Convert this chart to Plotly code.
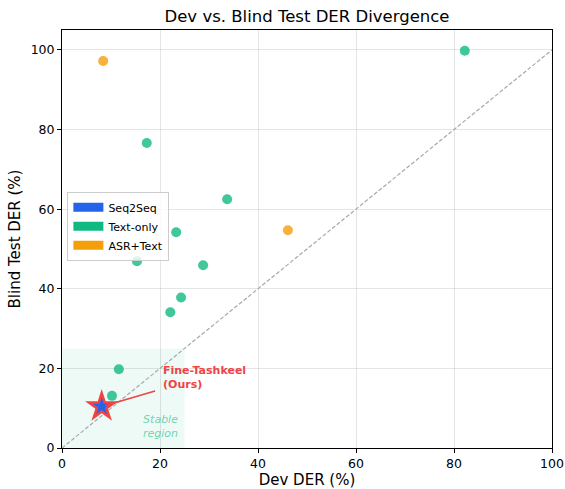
import plotly.graph_objects as go

# Data
text_dev = [82.2, 17.3, 33.7, 23.3, 15.3, 28.8, 24.3, 22.1, 11.6, 10.2]
text_blind = [99.8, 76.6, 62.5, 54.2, 46.9, 45.9, 37.8, 34.1, 19.8, 13.1]
asr_dev = [8.4, 46.1]
asr_blind = [97.2, 54.7]
ours_dev = [8.1]
ours_blind = [10.4]
ours_label = "Fine-Tashkeel<br>(Ours)"
legend_names = ["Seq2Seq", "Text-only", "ASR+Text"]
legend_colors = ["#2563eb", "#10b981", "#f59e0b"]
stable_limit = 25
axis_ticks = [0, 20, 40, 60, 80, 100]

FONT = "DejaVu Sans"
fig = go.Figure()

# stable region
fig.add_shape(type="rect", xref="x", yref="y", x0=0, y0=0, x1=stable_limit, y1=stable_limit,
              fillcolor="rgba(16,185,129,0.07)", line_width=0, layer="below")

# diagonal
fig.add_trace(go.Scatter(x=[0, 100], y=[0, 100], mode="lines",
                         line=dict(color="#a8a8a8", width=1.2, dash="4px,2px"), showlegend=False,
                         hoverinfo="skip"))

fig.add_trace(go.Scatter(x=text_dev, y=text_blind, mode="markers",
                         marker=dict(color="#10b981", size=10, opacity=0.8, line_width=0),
                         showlegend=False))
fig.add_trace(go.Scatter(x=asr_dev, y=asr_blind, mode="markers",
                         marker=dict(color="#f59e0b", size=10, opacity=0.8, line_width=0),
                         showlegend=False))

# arrow
fig.add_annotation(x=ours_dev[0], y=ours_blind[0], ax=19.3, ay=14.4, axref="x", ayref="y",
                   xref="x", yref="y", text="", showarrow=True, arrowhead=0,
                   arrowwidth=1.6, arrowcolor="#ef4444", standoff=4)

# star
fig.add_trace(go.Scatter(x=ours_dev, y=ours_blind, mode="markers",
                         marker=dict(symbol="star", color="#ef4444", size=25, line_width=0),
                         showlegend=False))
fig.add_trace(go.Scatter(x=ours_dev, y=ours_blind, mode="markers",
                         marker=dict(symbol="star", color="#2563eb", size=13, line_width=0),
                         showlegend=False))

# legend entries
for n, c in zip(legend_names, legend_colors):
    fig.add_trace(go.Scatter(x=[None], y=[None], mode="lines", name=n,
                             line=dict(color=c, width=9)))

fig.add_annotation(x=20.2, y=17.8, xref="x", yref="y", text="<b>" + ours_label + "</b>",
                   showarrow=False, xanchor="left", yanchor="middle", align="left",
                   font=dict(family=FONT, size=11, color="#ef4444"))
fig.add_annotation(x=20, y=5.3, xref="x", yref="y", text="<i>Stable<br>region</i>",
                   showarrow=False, xanchor="center", yanchor="middle", align="center",
                   font=dict(family=FONT, size=11, color="rgba(16,185,129,0.6)"))

axis_common = dict(showline=True, linecolor="black", linewidth=1, mirror=True,
                   ticks="outside", ticklen=4, tickcolor="black", automargin=False,
                   showgrid=True, gridcolor="rgba(0,0,0,0.1)", gridwidth=1,
                   zeroline=False, tickvals=axis_ticks,
                   tickfont=dict(family=FONT, size=12.5, color="black"))

fig.update_xaxes(range=[0, 100], title=dict(text="Dev DER (%)", font=dict(family=FONT, size=15, color="black"), standoff=6),
                 **axis_common)
fig.update_yaxes(range=[0, 105], title=dict(text="Blind Test DER (%)", font=dict(family=FONT, size=15, color="black"), standoff=6),
                 **axis_common)

fig.update_layout(
    width=565, height=489,
    margin=dict(l=62, r=13, t=30, b=41, autoexpand=False),
    paper_bgcolor="white", plot_bgcolor="white",
    title=dict(text="Dev vs. Blind Test DER Divergence", x=0.5, xref="paper", xanchor="center",
               y=0.955, yref="container", yanchor="bottom", automargin=False,
               font=dict(family=FONT, size=16.5, color="black")),
    legend=dict(x=0.011, y=0.613, xanchor="left", yanchor="top",
                bgcolor="rgba(255,255,255,0.8)", bordercolor="#cccccc", borderwidth=1,
                font=dict(family=FONT, size=11, color="black"), itemwidth=30,
                tracegroupgap=0),
    font=dict(family=FONT),
)

fig.write_html("out.html", config={"displayModeBar": False},
               post_script="document.body.style.margin='0';document.body.style.overflow='hidden';")
